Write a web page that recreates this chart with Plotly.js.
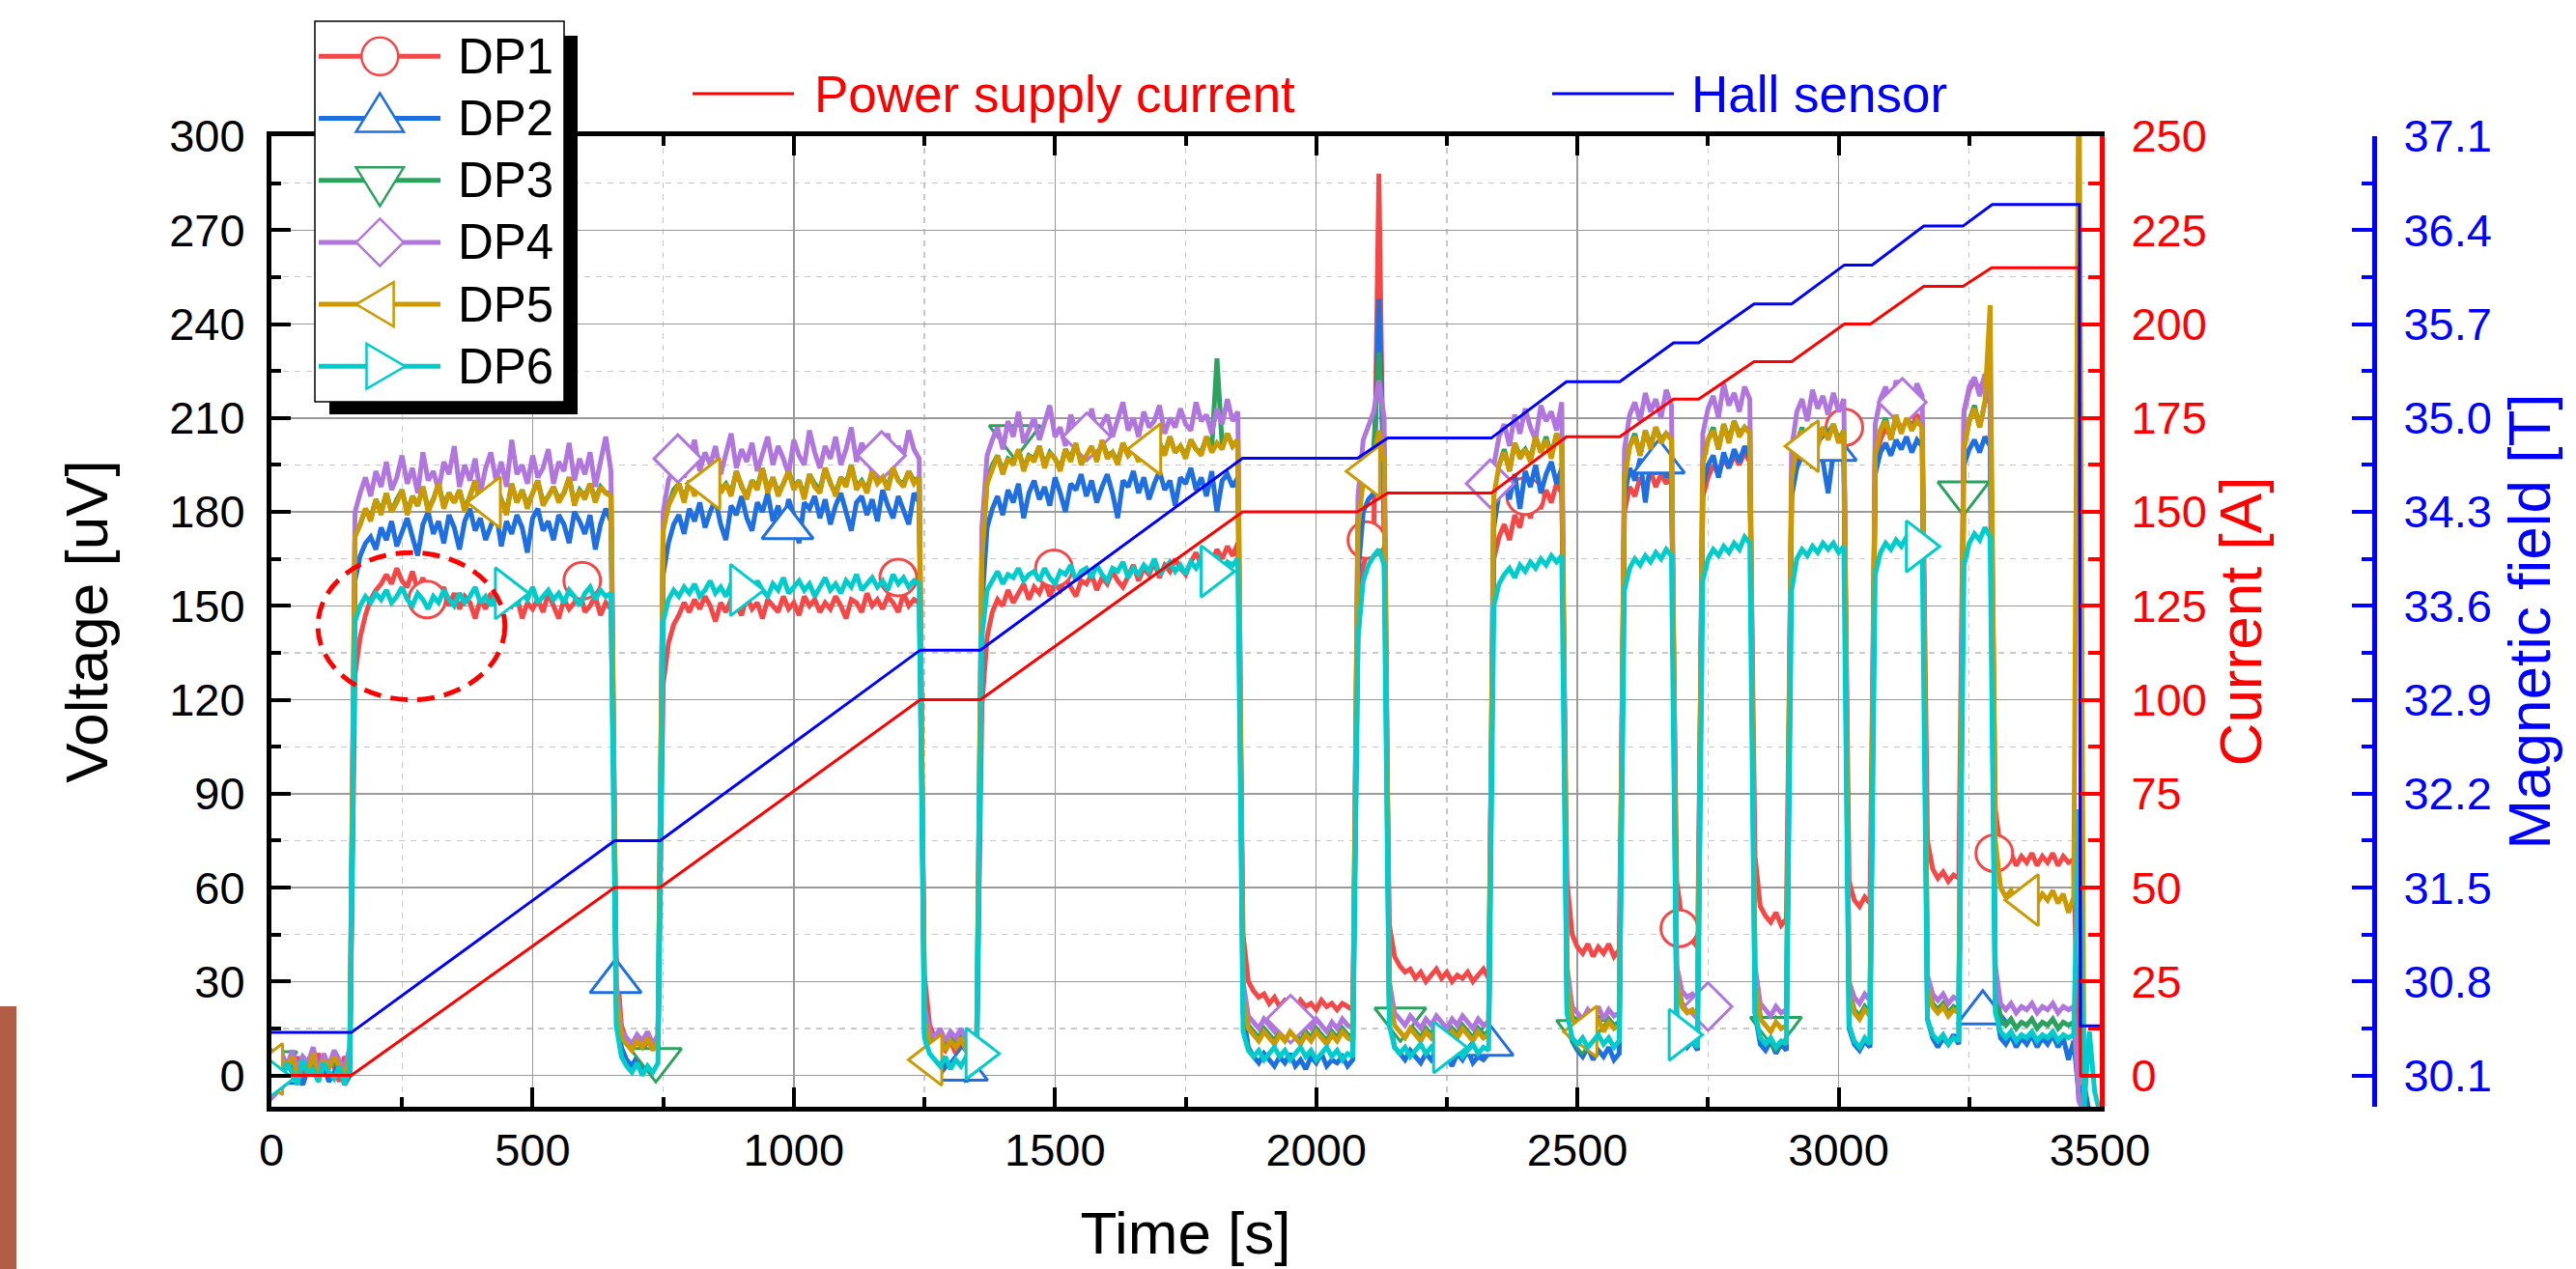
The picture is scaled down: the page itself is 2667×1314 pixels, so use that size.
<!DOCTYPE html>
<html><head><meta charset="utf-8">
<script src="https://cdn.plot.ly/plotly-3.0.1.min.js"></script>
<style>html,body{margin:0;padding:0;background:#fff}#chart{width:2667px;height:1314px}</style>
</head><body><div id="chart"></div>
<script>
const FONT = 'Arial, "Liberation Sans", sans-serif';

// DP voltage channels sampled every 10 s from t = 0 s (values in uV)
const sampleStart = 0, sampleStep = 10;
const seriesNames = ['DP1', 'DP2', 'DP3', 'DP4', 'DP5', 'DP6'];

const dp1 = [2,4,0,5,1,6,-1,4,2,7,0,5,3,-2,6,3,
128,140,147,152,155,157,160,157,162,158,156,161,155,159,153,157,151,156,150,154,149,153,151,146,152,149,154,150,147,152,150,153,146,151,149,152,148,154,150,146,152,149,151,155,148,150,153,147,151,149,
38,16,11,9,12,8,11,9,12,
125,138,144,147,151,148,152,149,153,150,145,151,148,152,150,147,153,149,151,146,152,150,148,153,149,151,147,153,150,152,148,151,149,153,150,146,152,151,148,154,150,152,149,153,151,148,154,150,152,151,
32,16,12,10,8,11,7,10,8,11,9,
118,140,148,152,150,155,151,154,157,152,156,154,158,153,157,155,159,156,153,158,157,160,155,159,157,161,158,156,160,163,158,162,160,164,159,163,161,165,162,160,164,167,163,166,164,168,165,169,166,170,
45,30,27,25,26,23,25,22,24,23,21,24,22,23,21,24,22,23,21,23,22,21,
140,163,168,172,288,176,
48,38,35,33,34,31,33,30,32,34,31,33,30,32,31,33,30,32,34,31,
165,172,176,171,179,175,183,178,185,181,187,183,189,186,
62,45,41,39,42,38,41,39,42,38,40,
180,188,185,191,187,193,188,192,189,192,
62,50,45,43,41,
185,191,195,192,197,194,198,195,199,196,
70,54,51,49,52,48,50,
185,196,200,203,199,204,201,205,202,206,203,
62,56,54,57,55,
195,203,207,204,209,206,210,207,211,208,
75,66,63,65,62,64,63,
212,219,222,219,223,220,
85,72,69,71,67,70,68,71,67,70,68,71,67,70,68,69,
-4,-8,-12,-13,-14];

const dp2 = [1,-2,3,-1,4,0,-3,2,5,-1,3,-2,1,4,-3,0,
158,166,170,172,168,175,171,177,169,174,178,172,166,176,180,173,177,170,179,175,168,177,181,174,178,171,176,180,169,177,173,179,175,167,178,181,174,177,171,179,176,170,180,177,173,179,168,176,181,177,
22,9,5,3,6,2,5,1,4,
160,170,176,179,173,181,177,183,175,180,184,176,171,182,179,185,178,174,183,180,186,177,182,175,184,179,170,183,181,185,178,184,176,182,186,180,174,183,185,179,184,177,187,182,178,185,181,176,186,183,
14,6,3,1,4,0,3,1,-2,2,0,
150,175,181,185,179,187,183,189,178,186,190,184,188,182,191,186,180,189,187,192,185,190,183,188,192,186,178,190,188,193,186,191,184,189,193,187,190,182,191,189,194,187,191,185,193,180,190,192,188,191,
20,9,6,4,7,5,3,6,4,7,3,5,2,6,4,7,3,5,4,6,3,5,
160,180,184,186,248,188,
18,9,7,5,8,6,4,7,5,8,4,6,3,7,5,8,4,6,5,7,
175,186,189,184,192,181,193,188,195,186,192,196,189,194,
22,11,8,6,9,5,8,6,9,5,7,
185,194,190,197,183,196,192,198,191,196,
18,12,9,11,8,
188,195,198,191,199,194,200,196,201,197,
20,10,8,11,7,10,8,
185,194,198,200,194,201,196,186,199,202,197,
15,10,8,11,9,
192,199,202,198,203,200,204,199,203,201,
18,12,9,12,10,13,10,
195,200,203,199,204,201,
22,12,10,13,9,12,10,13,9,12,10,13,9,12,5,11,
-6,-3,-12,-14,-13];

const dp3 = [4,0,6,2,5,1,3,2,6,-1,4,3,5,2,1,5,
173,176,181,178,184,180,186,180,184,187,180,185,182,188,181,184,189,182,186,183,187,181,185,190,183,186,182,188,184,180,189,183,187,182,186,190,183,185,188,184,186,191,183,187,185,189,184,188,186,186,
28,13,11,9,12,10,13,9,12,
175,182,187,189,184,190,186,191,187,185,192,187,189,186,193,188,185,190,188,194,187,191,186,189,193,188,190,185,192,189,187,194,189,186,191,189,195,188,190,187,193,190,191,188,194,190,189,193,190,191,
19,12,10,13,9,12,10,13,9,11,10,
166,190,195,198,193,197,196,200,194,198,197,201,195,199,197,194,200,197,202,196,198,201,197,203,198,199,196,202,198,201,197,203,199,198,202,199,204,199,201,198,203,200,199,204,200,229,201,205,201,203,
26,16,14,12,15,13,11,14,12,15,13,11,14,12,15,13,11,14,12,15,13,12,
178,194,198,200,231,199,
26,17,15,13,16,14,12,15,13,16,14,12,15,13,16,14,12,15,13,14,
186,195,200,193,202,198,200,197,204,199,204,198,205,202,
31,19,17,15,18,16,19,15,18,16,17,
191,201,205,198,206,201,207,203,205,204,
31,23,21,22,20,
196,203,207,200,208,203,209,205,207,206,
31,19,17,15,18,16,17,
191,202,207,199,208,202,207,204,208,203,206,
27,21,19,22,20,
199,206,210,203,211,206,210,207,209,208,
29,23,21,23,20,22,21,
201,209,214,207,215,218,
30,18,16,18,15,17,16,18,15,17,16,18,15,17,16,17,
-8,-12,-14,-13,-15];

const dp4 = [5,1,7,3,8,2,6,4,9,1,7,3,8,5,2,9,
180,186,191,185,193,188,196,187,191,198,189,194,186,199,190,193,187,196,192,201,188,195,190,197,186,194,199,190,196,188,203,192,195,189,198,191,194,200,189,196,193,202,190,197,192,199,188,196,204,193,
30,14,12,10,13,11,14,10,13,
180,190,194,198,191,197,203,193,199,195,201,192,198,205,194,200,196,202,193,199,204,195,201,197,192,203,198,195,206,199,194,201,197,204,195,200,207,196,202,198,193,203,199,205,196,201,198,206,200,197,
22,14,12,15,11,14,12,15,11,13,12,
175,198,203,207,200,209,204,212,202,206,210,203,208,214,204,207,201,211,206,209,203,213,205,208,211,204,209,215,206,210,204,212,207,209,214,205,210,207,213,208,206,215,209,211,205,213,208,216,209,212,
30,19,17,15,18,16,14,17,15,18,16,14,17,15,18,16,14,17,15,18,16,15,
185,203,208,212,222,210,
30,20,18,16,19,17,15,18,16,19,17,15,18,16,19,17,15,18,16,17,
195,204,208,201,211,205,213,207,203,214,209,212,206,215,
35,22,20,18,21,19,22,18,21,19,20,
200,211,215,209,218,212,216,210,219,214,
35,27,25,26,24,
205,213,217,210,221,214,218,212,220,216,
35,23,21,19,22,20,21,
200,212,216,209,219,213,217,211,218,212,216,
30,25,23,26,24,
208,216,220,213,222,216,219,214,221,217,
32,26,24,26,23,25,24,
212,220,223,217,224,221,
35,23,21,23,20,22,21,23,20,22,21,23,20,22,21,22,
-8,-12,-14,-13,-15];

const dp5 = [3,-1,5,2,6,0,4,1,7,-2,5,2,6,3,0,6,
172,176,181,177,184,179,186,180,183,187,179,185,182,188,180,184,189,181,186,183,187,180,185,190,182,186,181,188,184,179,189,183,187,181,186,190,182,185,188,183,186,191,182,187,184,189,183,188,186,185,
26,12,10,8,11,9,12,8,11,
174,182,186,189,183,190,185,191,187,184,192,186,189,185,193,188,184,190,187,194,186,191,185,189,193,187,190,184,192,188,186,194,189,185,191,188,195,187,190,186,193,189,191,187,194,190,188,193,189,191,
18,11,9,12,8,11,9,12,8,10,9,
165,189,194,198,192,197,195,200,193,198,196,201,194,199,197,193,200,196,202,195,198,201,196,203,197,199,195,202,198,200,196,203,199,197,202,198,204,199,201,197,203,200,198,204,199,202,200,205,201,203,
25,15,13,11,14,12,10,13,11,14,12,10,13,11,14,12,10,13,11,14,12,11,
175,190,194,197,206,196,
25,16,14,12,15,13,11,14,12,15,13,11,14,12,15,13,11,14,12,13,
185,195,199,193,202,197,200,196,204,199,203,197,205,201,
30,18,16,14,17,15,18,14,17,15,16,
190,201,204,198,206,200,207,202,205,203,
30,22,20,21,19,
195,203,206,200,208,202,209,204,207,205,
30,18,16,14,17,15,16,
190,202,206,199,208,201,207,203,208,202,206,
26,20,18,21,19,
198,206,209,203,211,205,210,206,209,207,
28,22,20,22,19,21,20,
200,209,213,207,215,246,
75,60,57,59,55,58,56,59,55,58,56,59,55,58,52,57,
330,-10,-14,-13,-15];

const dp6 = [0,3,-2,4,1,-3,5,0,2,-2,4,1,-1,3,-3,2,
145,150,153,151,154,152,155,151,153,156,152,150,154,152,149,153,151,155,152,150,154,151,153,156,151,153,150,154,152,155,153,150,154,152,156,151,153,155,152,154,151,155,153,150,154,156,152,155,153,154,
16,6,3,1,4,0,3,1,4,
145,152,155,153,156,154,157,153,155,158,154,156,153,157,155,152,156,154,158,155,153,157,155,159,154,156,158,155,157,153,156,159,155,157,154,158,156,160,155,157,159,156,158,155,160,157,159,156,158,157,
12,7,5,3,6,2,5,3,6,4,3,
140,155,158,161,157,160,159,162,158,160,161,158,162,159,157,161,160,163,158,161,162,159,163,160,158,162,161,164,159,162,160,163,161,165,160,162,164,161,163,160,164,162,165,161,163,166,162,164,163,165,
14,8,6,8,5,7,9,6,8,5,7,9,6,8,5,7,9,6,8,5,7,6,
140,158,163,166,168,163,
16,9,7,9,6,8,10,7,9,6,8,10,7,9,6,8,10,7,9,8,
150,157,160,162,159,163,161,164,162,165,163,166,164,166,
20,12,10,12,9,11,13,10,12,9,11,
155,162,165,163,166,164,167,165,168,166,
20,12,10,11,9,
158,165,168,166,169,167,170,168,172,170,
20,12,10,12,9,11,10,
155,165,168,166,169,167,170,168,170,167,169,
16,11,9,12,10,
160,167,170,168,171,169,172,170,172,170,
18,13,11,13,10,12,11,
163,170,173,171,175,172,
20,14,12,14,11,13,12,14,11,13,12,14,11,13,12,13,
85,-10,14,-5,-12];

// Marker positions (time s, voltage uV) as drawn on each channel
const dp1MarkT = [0, 298, 595, 1200, 1498, 2096, 2400, 2695, 3011, 3298];
const dp1MarkV = [2, 152, 158, 159, 162, 171, 185, 47, 207, 71];
const dp2MarkT = [0, 659, 988, 1322, 2328, 2656, 2985, 3276];
const dp2MarkV = [1, 30, 175, 2, 10, 196, 200, 20];
const dp3MarkT = [0, 736, 1423, 2161, 2509, 2880, 3239];
const dp3MarkV = [4, 5, 204, 18, 14, 15, 186];
const dp4MarkT = [0, 778, 1168, 1561, 1951, 2333, 2750, 3122];
const dp4MarkV = [0, 197, 198, 204, 18, 189, 22, 215];
const dp5MarkT = [0, 417, 837, 1262, 1681, 2100, 2516, 2940, 3361];
const dp5MarkV = [2, 183, 189, 5, 200, 193, 14, 201, 56];
const dp6MarkT = [0, 450, 900, 1351, 1801, 2246, 2697, 3151];
const dp6MarkV = [-1, 154, 155, 7, 161, 9, 13, 169];

// Power supply current (A) breakpoints
const currentTime = [0,153,657,744,1242,1357,1859,2079,2137,2335,2479,2581,2684,2732,2838,2910,3011,3061,3163,3238,3293,3460,3463,3500];
const currentA    = [0,0,50,50,100,100,150,150,155,155,170,170,180,180,190,190,200,200,210,210,215,215,0,0];
// Hall sensor field (T) breakpoints
const hallTime = [0,153,657,744,1242,1357,1859,2079,2137,2335,2479,2581,2684,2732,2838,2910,3011,3064,3163,3238,3294,3461,3463,3500];
const hallB    = [30.42,30.42,31.85,31.85,33.27,33.27,34.70,34.70,34.85,34.85,35.27,35.27,35.56,35.56,35.85,35.85,36.14,36.14,36.43,36.43,36.59,36.59,30.47,30.47];

const magTicks = [30.1, 30.8, 31.5, 32.2, 32.9, 33.6, 34.3, 35.0, 35.7, 36.4, 37.1];
const magTickText = ['30.1','30.8','31.5','32.2','32.9','33.6','34.3','35.0','35.7','36.4','37.1'];

// ---------- styling ----------
const colors = ['#f44848', '#1f6fe0', '#2ca25f', '#b176de', '#cc9900', '#00cccc'];
const symbols = ['circle', 'triangle-up', 'triangle-down', 'diamond', 'triangle-left', 'triangle-right'];
const symSize = [38, 46, 46, 38, 46, 46];
const ys = [dp1, dp2, dp3, dp4, dp5, dp6];
const mT = [dp1MarkT, dp2MarkT, dp3MarkT, dp4MarkT, dp5MarkT, dp6MarkT];
const mV = [dp1MarkV, dp2MarkV, dp3MarkV, dp4MarkV, dp5MarkV, dp6MarkV];

const traces = [];
for (let k = 0; k < 6; k++) {
  traces.push({type: 'scatter', mode: 'lines', name: seriesNames[k], x0: sampleStart, dx: sampleStep, y: ys[k],
    line: {color: colors[k], width: 5}, hoverinfo: 'skip', showlegend: false});
  traces.push({type: 'scatter', mode: 'markers', name: seriesNames[k] + ' markers', x: mT[k], y: mV[k],
    marker: {symbol: symbols[k], size: symSize[k], color: '#ffffff', line: {color: colors[k], width: 3}},
    hoverinfo: 'skip', showlegend: false, cliponaxis: true});
}
traces.push({type: 'scatter', mode: 'lines', name: 'Power supply current', x: currentTime, y: currentA, yaxis: 'y2',
  line: {color: '#ff0000', width: 3}, hoverinfo: 'skip', showlegend: false});
traces.push({type: 'scatter', mode: 'lines', name: 'Hall sensor', x: hallTime, y: hallB, yaxis: 'y3',
  line: {color: '#0000ff', width: 3}, hoverinfo: 'skip', showlegend: false});

// ---------- geometry (pixels of the 2667x1314 page) ----------
const PL = 281, PR = 2458, PT = 141, PB = 1146;
const plotRight = 2174;
const xp = px => (px - PL) / (PR - PL);
const yp = py => (PB - py) / (PB - PT);

const shapes = [];
const annotations = [];

// red dashed ellipse highlighting DP1 overshoot
const ellipse = {t0: 89, t1: 447, v0: 120, v1: 167};
shapes.push({type: 'circle', xref: 'x', yref: 'y', x0: ellipse.t0, x1: ellipse.t1, y0: ellipse.v0, y1: ellipse.v1,
  line: {color: '#ff0000', width: 5, dash: '18px,10px'}, layer: 'above'});

// brown strip at left edge of picture
shapes.push({type: 'rect', xref: 'paper', yref: 'paper', x0: xp(0), x1: xp(17), y0: yp(1314), y1: yp(1042),
  fillcolor: '#b25d45', line: {width: 0}, layer: 'above'});

// DP legend box with shadow
shapes.push({type: 'rect', xref: 'paper', yref: 'paper', x0: xp(341), x1: xp(598), y0: yp(429), y1: yp(37),
  fillcolor: '#000', line: {width: 0}, layer: 'above'});
shapes.push({type: 'rect', xref: 'paper', yref: 'paper', x0: xp(326), x1: xp(584), y0: yp(416), y1: yp(22),
  fillcolor: '#fff', line: {color: '#000', width: 1.5}, layer: 'above'});
const glyphPaths = [
  null,
  'M -24.7 -14 L 24.7 -14 L 0 26 Z',
  'M -24.7 13.4 L 24.7 13.4 L 0 -26.6 Z',
  'M 0 24.5 L 24.5 0 L 0 -24.5 L -24.5 0 Z',
  'M -24.6 0 L 14.3 23 L 14.3 -23 Z',
  'M 26.3 0 L -13.8 23.3 L -13.8 -23.3 Z'
];
for (let k = 0; k < 6; k++) {
  const ry = 58.3 + 64.2 * k;
  shapes.push({type: 'line', xref: 'paper', yref: 'paper', x0: xp(330), x1: xp(456), y0: yp(ry), y1: yp(ry),
    line: {color: colors[k], width: 5}, layer: 'above'});
  if (k === 0) {
    shapes.push({type: 'circle', xref: 'paper', yref: 'paper', xsizemode: 'pixel', ysizemode: 'pixel',
      xanchor: xp(393.3), yanchor: yp(ry), x0: -19, x1: 19, y0: -19.5, y1: 19.5,
      fillcolor: '#fff', line: {color: colors[k], width: 2.5}, layer: 'above'});
  } else {
    shapes.push({type: 'path', xref: 'paper', yref: 'paper', xsizemode: 'pixel', ysizemode: 'pixel',
      xanchor: xp(393.3), yanchor: yp(ry), path: glyphPaths[k],
      fillcolor: '#fff', line: {color: colors[k], width: 2.5}, layer: 'above'});
  }
  annotations.push({xref: 'paper', yref: 'paper', x: xp(472), y: yp(ry), xanchor: 'left', yanchor: 'middle',
    text: seriesNames[k], showarrow: false, font: {family: FONT, size: 51, color: '#000'}});
}

// top legend for current and hall sensor
shapes.push({type: 'line', xref: 'paper', yref: 'paper', x0: xp(717), x1: xp(822), y0: yp(97), y1: yp(97),
  line: {color: '#ff0000', width: 3}, layer: 'above'});
annotations.push({xref: 'paper', yref: 'paper', x: xp(841), y: yp(97), xanchor: 'left', yanchor: 'middle',
  text: 'Power supply current', showarrow: false, font: {family: FONT, size: 53, color: '#ff0000'}});
shapes.push({type: 'line', xref: 'paper', yref: 'paper', x0: xp(1607), x1: xp(1733), y0: yp(97), y1: yp(97),
  line: {color: '#0000ff', width: 3}, layer: 'above'});
annotations.push({xref: 'paper', yref: 'paper', x: xp(1749), y: yp(97), xanchor: 'left', yanchor: 'middle',
  text: 'Hall sensor', showarrow: false, font: {family: FONT, size: 53, color: '#0000ff'}});

const tickFont = c => ({family: FONT, size: 47, color: c});
const titleFont = c => ({family: FONT, size: 62, color: c});

const layout = {
  width: 2667, height: 1314,
  margin: {l: PL, r: 2667 - PR, t: PT, b: 1314 - PB, pad: 0},
  paper_bgcolor: '#fff', plot_bgcolor: '#fff',
  font: {family: FONT},
  showlegend: false,
  xaxis: {
    domain: [0, (plotRight - PL) / (PR - PL)], range: [0, 3500], tick0: 0, dtick: 500,
    showline: true, linecolor: '#000', linewidth: 5, mirror: 'ticks',
    ticks: 'inside', ticklen: 20, tickwidth: 4, tickcolor: '#000',
    showgrid: true, gridcolor: '#9a9a9a', gridwidth: 1.5, zeroline: false,
    minor: {dtick: 250, ticks: 'inside', ticklen: 10, tickwidth: 4, tickcolor: '#000',
      showgrid: true, gridcolor: '#c8c8c8', gridwidth: 1.2, griddash: '6px,6px'},
    tickfont: tickFont('#000'), ticklabelstandoff: 0,
    title: {text: 'Time [s]', font: titleFont('#000'), standoff: 40},
    automargin: false
  },
  yaxis: {
    range: [-10, 300], tick0: 0, dtick: 30,
    showline: true, linecolor: '#000', linewidth: 5, mirror: false,
    ticks: 'inside', ticklen: 20, tickwidth: 4, tickcolor: '#000',
    showgrid: true, gridcolor: '#9a9a9a', gridwidth: 1.5, zeroline: false,
    minor: {dtick: 15, ticks: 'inside', ticklen: 10, tickwidth: 4, tickcolor: '#000',
      showgrid: true, gridcolor: '#c8c8c8', gridwidth: 1.2, griddash: '6px,6px'},
    tickfont: tickFont('#000'), ticklabelstandoff: 13,
    title: {text: 'Voltage [uV]', font: titleFont('#000'), standoff: 45},
    automargin: false
  },
  yaxis2: {
    overlaying: 'y', side: 'right', anchor: 'x',
    range: [-10 * 250 / 300, 250], tick0: 0, dtick: 25,
    showline: true, linecolor: '#ff0000', linewidth: 5,
    ticks: 'inside', ticklen: 20, tickwidth: 4, tickcolor: '#ff0000',
    minor: {dtick: 12.5, ticks: 'inside', ticklen: 12, tickwidth: 4, tickcolor: '#ff0000', showgrid: false},
    showgrid: false, zeroline: false,
    tickfont: tickFont('#ff0000'), ticklabelstandoff: 18,
    title: {text: 'Current [A]', font: titleFont('#ff0000'), standoff: 15},
    automargin: false
  },
  yaxis3: {
    overlaying: 'y', side: 'right', anchor: 'free', position: 1,
    range: [30.1 - 10 * 7 / 300, 37.1],
    tickmode: 'array', tickvals: magTicks, ticktext: magTickText,
    showline: true, linecolor: '#0000ff', linewidth: 5,
    ticks: 'inside', ticklen: 21, tickwidth: 4, tickcolor: '#0000ff',
    minor: {tickmode: 'linear', tick0: 30.1, dtick: 0.35, ticks: 'inside', ticklen: 11, tickwidth: 4, tickcolor: '#0000ff', showgrid: false},
    showgrid: false, zeroline: false,
    tickfont: tickFont('#0000ff'), ticklabelstandoff: 18,
    title: {text: 'Magnetic field [T]', font: titleFont('#0000ff'), standoff: 17},
    automargin: false
  },
  shapes: shapes,
  annotations: annotations
};

Plotly.newPlot('chart', traces, layout, {displayModeBar: false, staticPlot: true});
</script>
</body></html>
